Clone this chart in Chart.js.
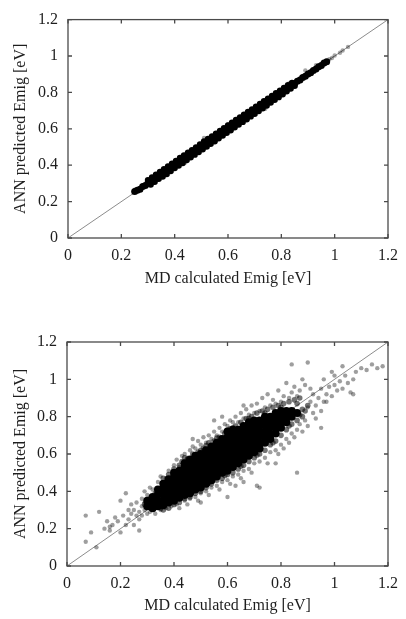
<!DOCTYPE html>
<html><head><meta charset="utf-8">
<script src="https://cdn.jsdelivr.net/npm/chart.js@4/dist/chart.umd.min.js"></script>
<style>
html,body{margin:0;padding:0;background:#fff;width:406px;height:619px;overflow:hidden}
canvas{position:absolute;left:0}
#c1{top:0}#c2{top:320px}
</style></head>
<body>
<canvas id="c1" width="406" height="300"></canvas>
<canvas id="c2" width="406" height="299"></canvas>
<script>
// ---- axis content ----
const tickValues = [0, 0.2, 0.4, 0.6, 0.8, 1, 1.2];
const tickLabels = ['0', '0.2', '0.4', '0.6', '0.8', '1', '1.2'];
const xTitle = 'MD calculated Emig [eV]';
const yTitle = 'ANN predicted Emig [eV]';
// y = x reference line
const diagX = [0, 1.2];
const diagY = [0, 1.2];

// ---- top panel (training set): tight band along the diagonal ----
const topBand = [
[0.25,0.255],[0.26,0.262],[0.27,0.268],[0.28,0.283],[0.29,0.288],[0.30,0.302],[0.31,0.308],[0.32,0.323],[0.33,0.328],[0.34,0.342],
[0.35,0.347],[0.36,0.362],[0.37,0.368],[0.38,0.383],[0.39,0.388],[0.40,0.402],[0.41,0.409],[0.42,0.421],[0.43,0.428],[0.44,0.442],
[0.45,0.449],[0.46,0.461],[0.47,0.468],[0.48,0.482],[0.49,0.489],[0.50,0.501],[0.51,0.508],[0.52,0.522],[0.53,0.529],[0.54,0.541],
[0.55,0.548],[0.56,0.562],[0.57,0.569],[0.58,0.581],[0.59,0.588],[0.60,0.602],[0.61,0.609],[0.62,0.621],[0.63,0.628],[0.64,0.642],
[0.65,0.649],[0.66,0.661],[0.67,0.668],[0.68,0.682],[0.69,0.689],[0.70,0.701],[0.71,0.708],[0.72,0.722],[0.73,0.729],[0.74,0.741],
[0.75,0.748],[0.76,0.762],[0.77,0.769],[0.78,0.781],[0.79,0.788],[0.80,0.802],[0.81,0.809],[0.82,0.821],[0.83,0.828],[0.84,0.842],
[0.85,0.849],[0.86,0.861],[0.87,0.868],[0.88,0.882],[0.89,0.889],[0.90,0.901],[0.91,0.908],[0.92,0.921],[0.93,0.929],[0.94,0.941],
[0.95,0.948],[0.96,0.961],[0.97,0.969]
];
const topUpper = [
[0.30,0.318],[0.315,0.333],[0.33,0.348],[0.345,0.363],[0.36,0.378],[0.375,0.393],[0.39,0.408],[0.405,0.424],[0.42,0.440],[0.435,0.454],
[0.45,0.468],[0.465,0.483],[0.48,0.498],[0.495,0.514],[0.51,0.530],[0.525,0.544],[0.54,0.558],[0.555,0.573],[0.57,0.588],[0.585,0.603],
[0.60,0.618],[0.615,0.633],[0.63,0.648],[0.645,0.663],[0.66,0.678],[0.675,0.692],[0.69,0.706],[0.705,0.721],[0.72,0.736],[0.735,0.751],
[0.75,0.765],[0.765,0.780],[0.78,0.795],[0.795,0.810],[0.81,0.824],[0.825,0.839],[0.84,0.852]
];
const topLower = [
[0.31,0.294],[0.325,0.309],[0.34,0.325],[0.355,0.338],[0.37,0.352],[0.385,0.368],[0.40,0.384],[0.415,0.398],[0.43,0.412],[0.445,0.428],
[0.46,0.443],[0.475,0.458],[0.49,0.472],[0.505,0.488],[0.52,0.503],[0.535,0.518],[0.55,0.532],[0.565,0.548],[0.58,0.563],[0.595,0.578],
[0.61,0.592],[0.625,0.608],[0.64,0.623],[0.655,0.638],[0.67,0.652],[0.685,0.668],[0.70,0.683],[0.715,0.698],[0.73,0.713],[0.745,0.728],
[0.76,0.744],[0.775,0.759],[0.79,0.774],[0.805,0.790],[0.82,0.806],[0.835,0.821],[0.85,0.836]
];
const topSparse = [
[0.44,0.415],[0.51,0.55],[0.74,0.71],[0.89,0.92],[0.60,0.625],[0.98,0.982],[0.99,0.989],[1.00,1.003],
[1.02,1.018],[1.03,1.03],[1.05,1.05],[0.25,0.265],[0.83,0.85],[0.93,0.95]
];

// ---- bottom panel (test set): broad cloud ----
const cloudCore = [
[0.30,0.32],[0.30,0.35],[0.32,0.31],[0.32,0.34],[0.32,0.37],[0.34,0.32],[0.34,0.35],[0.34,0.385],[0.34,0.41],
[0.36,0.325],[0.36,0.35],[0.36,0.38],[0.36,0.415],[0.36,0.44],[0.38,0.34],[0.38,0.37],[0.38,0.40],[0.38,0.43],[0.38,0.465],
[0.40,0.35],[0.40,0.385],[0.40,0.41],[0.40,0.44],[0.40,0.475],[0.40,0.50],[0.42,0.365],[0.42,0.39],[0.42,0.425],[0.42,0.45],[0.42,0.48],[0.42,0.51],
[0.44,0.38],[0.44,0.41],[0.44,0.44],[0.44,0.47],[0.44,0.505],[0.44,0.53],[0.44,0.55],[0.46,0.39],[0.46,0.425],[0.46,0.45],[0.46,0.48],[0.46,0.51],[0.46,0.545],[0.46,0.57],
[0.48,0.41],[0.48,0.44],[0.48,0.47],[0.48,0.505],[0.48,0.53],[0.48,0.56],[0.48,0.59],[0.50,0.42],[0.50,0.455],[0.50,0.48],[0.50,0.51],[0.50,0.545],[0.50,0.57],[0.50,0.60],
[0.52,0.44],[0.52,0.47],[0.52,0.50],[0.52,0.535],[0.52,0.56],[0.52,0.59],[0.52,0.62],[0.54,0.46],[0.54,0.49],[0.54,0.525],[0.54,0.55],[0.54,0.58],[0.54,0.61],[0.54,0.64],
[0.56,0.48],[0.56,0.51],[0.56,0.54],[0.56,0.575],[0.56,0.60],[0.56,0.63],[0.56,0.66],[0.58,0.50],[0.58,0.53],[0.58,0.565],[0.58,0.59],[0.58,0.62],[0.58,0.65],[0.58,0.68],
[0.60,0.51],[0.60,0.545],[0.60,0.57],[0.60,0.60],[0.60,0.635],[0.60,0.66],[0.60,0.69],[0.60,0.72],[0.62,0.53],[0.62,0.56],[0.62,0.59],[0.62,0.625],[0.62,0.65],[0.62,0.68],[0.62,0.71],[0.62,0.73],
[0.64,0.55],[0.64,0.58],[0.64,0.615],[0.64,0.64],[0.64,0.67],[0.64,0.70],[0.64,0.73],[0.66,0.57],[0.66,0.60],[0.66,0.63],[0.66,0.665],[0.66,0.69],[0.66,0.72],[0.66,0.75],
[0.68,0.59],[0.68,0.62],[0.68,0.655],[0.68,0.68],[0.68,0.71],[0.68,0.74],[0.68,0.77],[0.70,0.61],[0.70,0.64],[0.70,0.67],[0.70,0.705],[0.70,0.73],[0.70,0.76],[0.70,0.78],
[0.72,0.63],[0.72,0.66],[0.72,0.695],[0.72,0.72],[0.72,0.75],[0.72,0.78],[0.74,0.66],[0.74,0.69],[0.74,0.72],[0.74,0.755],[0.74,0.78],[0.74,0.80],
[0.76,0.68],[0.76,0.71],[0.76,0.745],[0.76,0.77],[0.76,0.80],[0.78,0.71],[0.78,0.74],[0.78,0.77],[0.78,0.805],[0.78,0.82],
[0.80,0.74],[0.80,0.77],[0.80,0.80],[0.80,0.83],[0.82,0.77],[0.82,0.80],[0.82,0.83],[0.84,0.80],[0.84,0.83],[0.86,0.82]
];
const cloudHalo = [
[0.36,0.47],[0.38,0.49],[0.40,0.52],[0.42,0.54],[0.43,0.56],[0.45,0.57],[0.47,0.60],[0.49,0.61],[0.51,0.63],[0.52,0.645],
[0.53,0.66],[0.55,0.67],[0.57,0.69],[0.59,0.71],[0.61,0.735],[0.63,0.75],[0.65,0.77],[0.67,0.79],[0.69,0.80],[0.71,0.82],
[0.73,0.83],[0.75,0.84],[0.77,0.85],[0.79,0.86],[0.81,0.87],[0.83,0.88],[0.85,0.89],[0.87,0.90],
[0.44,0.58],[0.50,0.62],[0.56,0.685],[0.62,0.74],[0.68,0.79],[0.74,0.82],[0.80,0.85],[0.86,0.87],
[0.36,0.30],[0.38,0.31],[0.40,0.33],[0.42,0.34],[0.44,0.36],[0.46,0.37],[0.48,0.39],[0.50,0.40],[0.52,0.42],[0.54,0.44],
[0.56,0.46],[0.58,0.47],[0.60,0.49],[0.62,0.50],[0.64,0.52],[0.66,0.54],[0.68,0.56],[0.70,0.58],[0.72,0.60],[0.74,0.62],
[0.76,0.65],[0.78,0.67],[0.80,0.70],[0.82,0.73],[0.84,0.76],[0.86,0.78],[0.88,0.80],
[0.47,0.40],[0.53,0.445],[0.59,0.485],[0.65,0.535],[0.71,0.595],[0.77,0.66],[0.83,0.75],[0.89,0.83],[0.90,0.86],
[0.31,0.36],[0.33,0.39],[0.29,0.33],[0.35,0.31],[0.88,0.84],[0.87,0.81]
];
const cloudSparse = [
// lower-left tail
[0.07,0.27],[0.07,0.13],[0.09,0.18],[0.12,0.29],[0.14,0.20],[0.16,0.19],[0.16,0.21],[0.17,0.22],[0.18,0.26],[0.19,0.24],
[0.20,0.35],[0.21,0.27],[0.22,0.39],[0.22,0.22],[0.23,0.30],[0.23,0.25],[0.24,0.28],[0.24,0.33],[0.25,0.22],[0.25,0.30],
[0.26,0.27],[0.26,0.34],[0.27,0.29],[0.27,0.25],[0.28,0.32],[0.28,0.36],[0.28,0.27],[0.29,0.30],[0.29,0.40],[0.29,0.34],
[0.30,0.28],[0.30,0.38],[0.31,0.29],[0.31,0.42],[0.27,0.19],[0.20,0.18],[0.15,0.24],[0.11,0.10],
// above the core
[0.32,0.41],[0.34,0.45],[0.35,0.48],[0.37,0.47],[0.38,0.51],[0.40,0.54],[0.41,0.57],[0.42,0.53],[0.43,0.59],[0.44,0.60],
[0.45,0.58],[0.46,0.62],[0.47,0.64],[0.48,0.63],[0.49,0.67],[0.50,0.65],[0.51,0.69],[0.52,0.66],[0.53,0.70],[0.54,0.68],
[0.55,0.72],[0.56,0.70],[0.57,0.74],[0.58,0.72],[0.59,0.76],[0.60,0.75],[0.61,0.78],[0.62,0.77],[0.63,0.80],[0.64,0.77],
[0.65,0.82],[0.66,0.79],[0.67,0.84],[0.68,0.81],[0.69,0.86],[0.70,0.82],[0.71,0.87],[0.72,0.83],[0.73,0.90],[0.74,0.85],
[0.75,0.92],[0.76,0.86],[0.77,0.89],[0.78,0.87],[0.79,0.94],[0.80,0.88],[0.81,0.91],[0.82,0.98],[0.83,0.90],[0.84,0.93],
[0.85,0.96],[0.86,0.91],[0.87,0.94],[0.88,1.00],[0.90,1.09],[0.84,1.08],[0.89,0.97],[0.66,0.86],[0.58,0.80],[0.47,0.68],[0.55,0.78],
// below the core
[0.33,0.28],[0.35,0.30],[0.37,0.31],[0.39,0.32],[0.41,0.33],[0.42,0.31],[0.44,0.35],[0.45,0.33],[0.46,0.36],[0.48,0.37],
[0.49,0.35],[0.50,0.39],[0.52,0.40],[0.53,0.38],[0.54,0.42],[0.56,0.43],[0.57,0.41],[0.58,0.45],[0.60,0.46],[0.61,0.44],
[0.62,0.48],[0.64,0.49],[0.65,0.47],[0.66,0.51],[0.68,0.52],[0.69,0.50],[0.70,0.55],[0.71,0.43],[0.72,0.42],[0.72,0.56],
[0.74,0.58],[0.75,0.55],[0.76,0.61],[0.78,0.62],[0.78,0.55],[0.79,0.60],[0.80,0.65],[0.81,0.63],[0.82,0.68],[0.83,0.66],
[0.84,0.71],[0.85,0.69],[0.86,0.73],[0.86,0.50],[0.87,0.76],[0.88,0.72],[0.89,0.78],[0.90,0.75],[0.63,0.43],[0.60,0.37],[0.50,0.34],[0.66,0.45],
// upper-right tail
[0.90,0.85],[0.91,0.88],[0.92,0.82],[0.92,0.92],[0.93,0.86],[0.94,0.90],[0.95,0.83],[0.95,0.95],[0.96,0.88],[0.97,0.92],
[0.97,0.88],[0.98,0.96],[0.99,0.91],[1.00,0.97],[1.00,1.02],[1.01,0.94],[1.02,0.99],[1.03,0.95],[1.04,1.02],[1.05,0.98],
[1.06,0.93],[1.07,0.92],[1.07,1.00],[1.08,1.04],[1.10,1.06],[1.12,1.05],[1.14,1.08],[1.16,1.06],[1.18,1.07],[0.95,0.74],
[0.93,0.79],[0.99,1.04],[1.03,1.07],[0.96,1.00],[0.91,0.95]
];

// ---- drawing ----
const FONT = {family: "'Liberation Serif', 'DejaVu Serif', serif", size: 16};
const TXT = '#1e1e1e';
const toXY = arr => arr.map(p => ({x: p[0], y: p[1]}));
const diagData = diagX.map((v, i) => ({x: v, y: diagY[i]}));

const framePlugin = {
  id: 'frame',
  afterDatasetsDraw(chart) {
    const {ctx, chartArea: a, scales: {x, y}} = chart;
    ctx.save();
    ctx.strokeStyle = '#4a4a4a';
    ctx.lineWidth = 1.3;
    ctx.strokeRect(a.left, a.top, a.right - a.left, a.bottom - a.top);
    ctx.beginPath();
    tickValues.forEach(v => {
      const px = x.getPixelForValue(v);
      ctx.moveTo(px, a.bottom); ctx.lineTo(px, a.bottom - 4);
      ctx.moveTo(px, a.top); ctx.lineTo(px, a.top + 4);
      const py = y.getPixelForValue(v);
      ctx.moveTo(a.left, py); ctx.lineTo(a.left + 4, py);
      ctx.moveTo(a.right, py); ctx.lineTo(a.right - 4, py);
    });
    ctx.stroke();
    ctx.restore();
  }
};

function makeChart(id, sets, cfg) {
  return new Chart(document.getElementById(id), {
    type: 'scatter',
    data: {datasets: [
      {data: diagData, showLine: true, borderColor: '#8c8c8c', borderWidth: 1, pointRadius: 0, order: 9},
      ...sets
    ]},
    options: {
      responsive: false, animation: false, devicePixelRatio: 1,
      layout: {padding: {top: cfg.top, right: cfg.right, left: 0, bottom: 0}},
      plugins: {legend: {display: false}, tooltip: {enabled: false}},
      scales: {
        x: {
          type: 'linear', min: 0, max: 1.2,
          afterBuildTicks: s => { s.ticks = tickValues.map(v => ({value: v})); },
          afterFit: s => { s.height = cfg.xh; },
          grid: {display: false, drawTicks: false}, border: {display: false},
          ticks: {font: FONT, color: TXT, padding: 8, maxRotation: 0, autoSkip: false,
                  callback: v => tickLabels[Math.round(v / 0.2)]},
          title: {display: true, text: xTitle, font: FONT, color: TXT, padding: {top: 0, bottom: cfg.xtp}}
        },
        y: {
          type: 'linear', min: 0, max: 1.2,
          afterBuildTicks: s => { s.ticks = tickValues.map(v => ({value: v})); },
          afterFit: s => { s.width = cfg.yw; },
          grid: {display: false, drawTicks: false}, border: {display: false},
          ticks: {font: FONT, color: TXT, padding: 10, autoSkip: false,
                  callback: v => tickLabels[Math.round(v / 0.2)]},
          title: {display: true, text: yTitle, font: FONT, color: TXT, padding: {top: 11, bottom: 0}}
        }
      }
    },
    plugins: [framePlugin]
  });
}

makeChart('c1', [
  {data: toXY(topBand), pointRadius: 3.5, pointBorderWidth: 0, backgroundColor: '#000', order: 1},
  {data: toXY(topUpper), pointRadius: 3.2, pointBorderWidth: 0, backgroundColor: '#000', order: 1},
  {data: toXY(topLower), pointRadius: 3.2, pointBorderWidth: 0, backgroundColor: '#000', order: 1},
  {data: toXY(topSparse), pointRadius: 2.2, pointBorderWidth: 0, backgroundColor: 'rgba(0,0,0,0.35)', order: 2}
], {top: 13, right: 15, xh: 62, yw: 68, xtp: 12});

makeChart('c2', [
  {data: toXY(cloudCore), pointRadius: 4, pointBorderWidth: 0, backgroundColor: '#000', order: 1},
  {data: toXY(cloudHalo), pointRadius: 2.8, pointBorderWidth: 0, backgroundColor: 'rgba(0,0,0,0.55)', order: 2},
  {data: toXY(cloudSparse), pointRadius: 2.2, pointBorderWidth: 0, backgroundColor: 'rgba(0,0,0,0.38)', order: 3}
], {top: 22, right: 14, xh: 53, yw: 67, xtp: 4});
</script>
</body></html>
